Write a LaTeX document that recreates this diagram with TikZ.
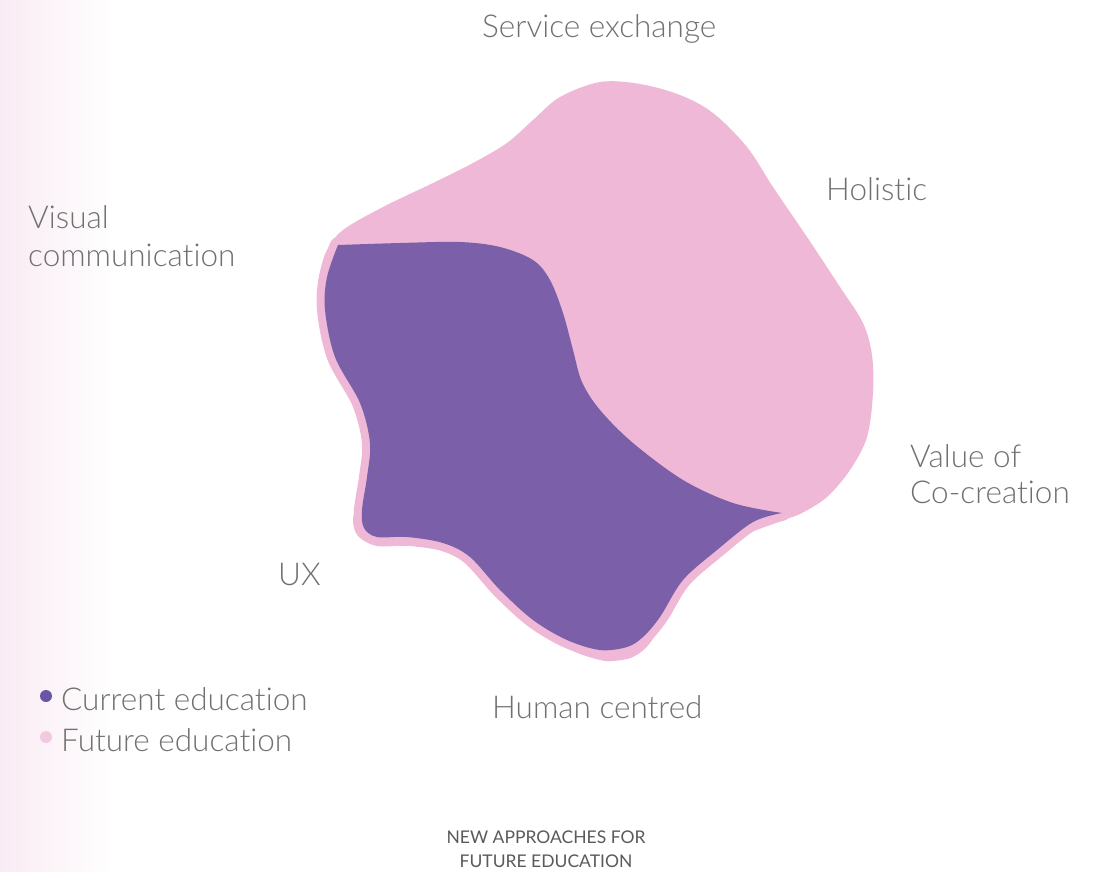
\documentclass[tikz,border=0pt]{standalone}
\usepackage{fontspec}
\setmainfont{Lato Light}[Ligatures=NoCommon]
\newfontfamily\capfont{Lato}[Ligatures=NoCommon]
\definecolor{futurepink}{HTML}{EEB8D6}
\definecolor{currentpurple}{HTML}{7B5FA8}
\definecolor{dotpurple}{HTML}{6A54A6}
\definecolor{dotpink}{HTML}{F2CADF}
\definecolor{labelgray}{HTML}{707070}
\definecolor{fadepink}{HTML}{F9EBF3}
\begin{document}
\begin{tikzpicture}[x=1pt,y=-1pt, line join=round, line cap=round,
    lbl/.style={anchor=base west, inner sep=0pt, text=labelgray, font=\fontsize{31.5}{38}\selectfont},
    caption/.style={anchor=base, inner sep=0pt, text=labelgray!80!black, font=\capfont\fontsize{17.5}{22}\selectfont},
    legenddot/.style={circle, inner sep=0pt, minimum size=12pt}]
  \useasboundingbox (0,0) rectangle (1097,871);
  \def\curblob{plot[smooth, tension=0.55] coordinates {
      (338,245) (400,243) (460,242) (500,247) (533,260) (550,280) (563,313)
      (573,350) (582,382) (600,410) (633,443) (683,480) (733,503) (782,513)}
    -- plot[smooth, tension=0.55] coordinates {
      (782,513) (753,522) (717,550) (683,580) (660,617) (643,637) (627,647)
      (600,650) (567,640) (533,620) (500,590) (470,557) (443,543) (407,537)
      (377,537) (364,528) (362,510) (367,477) (370,443) (360,403) (335,357)
      (325,310) (327,277) (338,245)} -- cycle}
  % faded strip on the left
  \shade[left color=fadepink, right color=white] (0,0) rectangle (115,871);
  % future education (outer blob)
  \fill[futurepink] plot[smooth cycle, tension=0.55] coordinates {
      (600,82) (640,84) (680,95) (713,113) (747,147) (773,187) (807,237)
      (840,287) (863,323) (872,355) (873,393) (867,437) (850,470) (827,497)
      (802,513) (784,520) (740,537) (710,557) (683,587) (667,613) (650,643)
      (633,657) (613,661) (600,660) (573,651) (540,631) (507,601) (477,568)
      (453,553) (410,546) (377,546) (358,536) (353,520) (358,500) (370,460)
      (365,427) (353,397) (330,360) (322,327) (318,293) (320,272) (327,250)
      (343,230) (383,207) (433,183) (473,163) (507,143) (533,120) (560,97)};
  \draw[futurepink, line width=16pt] \curblob;
  % current education (inner blob)
  \fill[currentpurple] \curblob;
  % axis labels
  \node[lbl] (service) at (482,37) {Service exchange};
  \node[lbl] (holistic) at (826,200) {Holistic};
  \node[lbl] (visual) at (28,228) {Visual};
  \node[lbl] (visualb) at (28,266) {communication};
  \node[lbl] (value) at (910,467) {Value of};
  \node[lbl] (valueb) at (910,503) {Co-creation};
  \node[lbl] (ux) at (278,585) {UX};
  \node[lbl] (human) at (492,718) {Human centred};
  % legend
  \foreach \c/\t/\y/\n in {dotpurple/Current education/710/cur, dotpink/Future education/751/fut}{
    \node[legenddot, fill=\c] (dot\n) at (46,\y-14) {};
    \node[lbl] (leg\n) at (61,\y) {\t};
  }
  % caption
  \node[caption] (capa) at (546,843) {NEW APPROACHES FOR};
  \node[caption] (capb) at (546,867) {FUTURE EDUCATION};
\end{tikzpicture}
\end{document}
